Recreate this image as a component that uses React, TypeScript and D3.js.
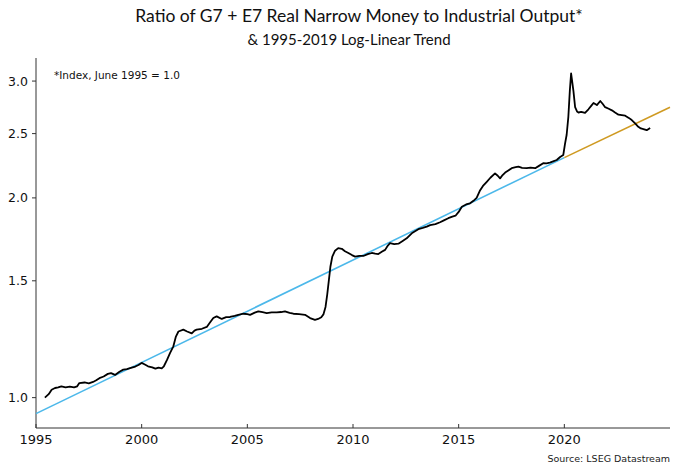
import React from "react";
import * as d3 from "d3";

const seriesDates = [
  1995.42, 1995.6, 1995.74, 1995.9, 1996.05, 1996.2, 1996.4, 1996.6, 1996.8, 1996.95,
  1997.05, 1997.3, 1997.5, 1997.7, 1997.85, 1998.0, 1998.2, 1998.4, 1998.55, 1998.74,
  1998.95, 1999.13, 1999.3, 1999.45, 1999.7, 1999.85, 2000.0, 2000.15, 2000.3, 2000.5,
  2000.65, 2000.8, 2000.95, 2001.05, 2001.2, 2001.34, 2001.5, 2001.62, 2001.74, 2001.97,
  2002.15, 2002.37, 2002.5, 2002.6, 2002.85, 2003.08, 2003.25, 2003.39, 2003.55, 2003.79,
  2004.0, 2004.18, 2004.4, 2004.57, 2004.81, 2005.0, 2005.13, 2005.35, 2005.52, 2005.72,
  2005.92, 2006.15, 2006.39, 2006.6, 2006.78, 2007.0, 2007.18, 2007.45, 2007.73, 2007.97,
  2008.2, 2008.35, 2008.5, 2008.6, 2008.7, 2008.78, 2008.86, 2008.93, 2009.02, 2009.15,
  2009.3, 2009.47, 2009.62, 2009.78, 2009.95, 2010.1, 2010.3, 2010.49, 2010.7, 2010.89,
  2011.05, 2011.2, 2011.38, 2011.52, 2011.65, 2011.75, 2011.95, 2012.15, 2012.35, 2012.54,
  2012.78, 2013.09, 2013.3, 2013.49, 2013.65, 2013.9, 2014.12, 2014.3, 2014.51, 2014.7,
  2014.85, 2015.0, 2015.15, 2015.35, 2015.54, 2015.7, 2015.85, 2016.0, 2016.15, 2016.33,
  2016.5, 2016.72, 2016.85, 2016.96, 2017.08, 2017.2, 2017.35, 2017.51, 2017.7, 2017.83,
  2018.0, 2018.22, 2018.4, 2018.62, 2018.8, 2019.0, 2019.15, 2019.32, 2019.5, 2019.64,
  2019.8, 2019.95, 2020.03, 2020.11, 2020.19, 2020.26, 2020.32, 2020.38, 2020.43, 2020.51,
  2020.6, 2020.67, 2020.8, 2020.98, 2021.14, 2021.28, 2021.38, 2021.54, 2021.7, 2021.82,
  2021.93, 2022.1, 2022.25, 2022.4, 2022.56, 2022.72, 2022.88, 2023.05, 2023.19, 2023.35,
  2023.5, 2023.62, 2023.74, 2023.9, 2024.06,
];

const seriesValues = [
  1.0, 1.012, 1.028, 1.034, 1.036, 1.04, 1.036, 1.039, 1.036, 1.04,
  1.052, 1.054, 1.051, 1.056, 1.062, 1.07, 1.076, 1.086, 1.089, 1.082,
  1.094, 1.102, 1.104, 1.108, 1.114, 1.12, 1.128, 1.122, 1.115, 1.111,
  1.106, 1.11, 1.107, 1.115, 1.14, 1.167, 1.195, 1.236, 1.258, 1.266,
  1.258, 1.25, 1.262, 1.266, 1.27, 1.278, 1.3, 1.318, 1.326, 1.314,
  1.322, 1.323, 1.328, 1.333, 1.338, 1.336, 1.333, 1.343, 1.349, 1.345,
  1.341, 1.344, 1.344, 1.346, 1.349, 1.342, 1.338, 1.336, 1.333, 1.318,
  1.31, 1.314, 1.322, 1.335, 1.37, 1.43, 1.505, 1.575, 1.631, 1.665,
  1.68, 1.676, 1.662, 1.652, 1.64, 1.631, 1.636, 1.635, 1.645, 1.652,
  1.648, 1.646, 1.66, 1.67, 1.695, 1.709, 1.704, 1.706, 1.722, 1.738,
  1.769, 1.794, 1.802, 1.81, 1.82, 1.826, 1.838, 1.85, 1.864, 1.874,
  1.88, 1.905, 1.94, 1.955, 1.963, 1.98, 2.0, 2.05, 2.085, 2.115,
  2.145, 2.178, 2.16, 2.14, 2.165, 2.184, 2.2, 2.217, 2.225, 2.229,
  2.22, 2.217, 2.222, 2.217, 2.235, 2.256, 2.255, 2.26, 2.272, 2.281,
  2.305, 2.321, 2.41, 2.49, 2.65, 2.9, 3.08, 2.98, 2.9, 2.74,
  2.7, 2.69, 2.695, 2.686, 2.72, 2.755, 2.78, 2.76, 2.8, 2.77,
  2.74, 2.725, 2.71, 2.69, 2.67, 2.665, 2.66, 2.64, 2.62, 2.59,
  2.56, 2.545, 2.54, 2.53, 2.55,
];

const trendDates = [1995, 2020];
const trendValues = [0.946, 2.3];
const extDates = [2020, 2025];
const extValues = [2.3, 2.74];

const xTicks = [1995, 2000, 2005, 2010, 2015, 2020];
const yTicks = [1.0, 1.5, 2.0, 2.5, 3.0];

const W = 680;
const H = 473;
const left = 36;
const right = 670;
const top = 58;
const bottom = 428;

const TITLE_FONT = "Lato, 'Open Sans', sans-serif";
const LABEL_FONT = "'DejaVu Sans', Verdana, sans-serif";

export default function App() {
  const x = d3.scaleLinear().domain([1995, 2025]).range([left, right]);
  const y = d3.scaleLog().domain([0.9, 3.25]).range([bottom, top]);

  const line = d3
    .line<[number, number]>()
    .x((d) => x(d[0]))
    .y((d) => y(d[1]));

  const series: [number, number][] = seriesDates.map((d, i) => [d, seriesValues[i]]);
  const trend: [number, number][] = trendDates.map((d, i) => [d, trendValues[i]]);
  const ext: [number, number][] = extDates.map((d, i) => [d, extValues[i]]);

  return (
    <svg
      width={W}
      height={H}
      style={{ position: "absolute", left: 0, top: 0, background: "#fff" }}
      fontFamily={TITLE_FONT}
    >
      <rect x={0} y={0} width={W} height={H} fill="#fff" />
      <text x={359} y={22} textAnchor="middle" fontSize={17.5} fill="#111">
        Ratio of G7 + E7 Real Narrow Money to Industrial Output*
      </text>
      <text x={349} y={45} textAnchor="middle" fontSize={15} fill="#111">
        &amp; 1995-2019 Log-Linear Trend
      </text>

      <text x={54} y={79} fontSize={10.5} fontFamily={LABEL_FONT} fill="#111">
        *Index, June 1995 = 1.0
      </text>

      {/* axes */}
      <line x1={left} x2={left} y1={top} y2={bottom} stroke="#333" strokeWidth={1} />
      <line x1={left} x2={right} y1={bottom} y2={bottom} stroke="#333" strokeWidth={1} />

      {yTicks.map((t) => (
        <g key={t}>
          <line x1={left - 4} x2={left} y1={y(t)} y2={y(t)} stroke="#333" />
          <text
            x={left - 8}
            y={y(t)}
            dy="0.36em"
            textAnchor="end"
            fontSize={12.5}
            fontFamily={LABEL_FONT}
            fill="#111"
          >
            {t.toFixed(1)}
          </text>
        </g>
      ))}
      {xTicks.map((t) => (
        <g key={t}>
          <line x1={x(t)} x2={x(t)} y1={bottom - 4} y2={bottom} stroke="#333" />
          <text
            x={x(t)}
            y={bottom + 16}
            textAnchor="middle"
            fontSize={13}
            fontFamily={LABEL_FONT}
            fill="#111"
          >
            {t}
          </text>
        </g>
      ))}

      <path d={line(trend) || ""} fill="none" stroke="#4cb8ea" strokeWidth={1.6} />
      <path d={line(ext) || ""} fill="none" stroke="#cf9a22" strokeWidth={1.6} />
      <path
        d={line(series) || ""}
        fill="none"
        stroke="#000"
        strokeWidth={1.8}
        strokeLinejoin="round"
      />

      <text
        x={670}
        y={462}
        textAnchor="end"
        fontSize={9.5}
        fontFamily={LABEL_FONT}
        fill="#222"
      >
        Source: LSEG Datastream
      </text>
    </svg>
  );
}
